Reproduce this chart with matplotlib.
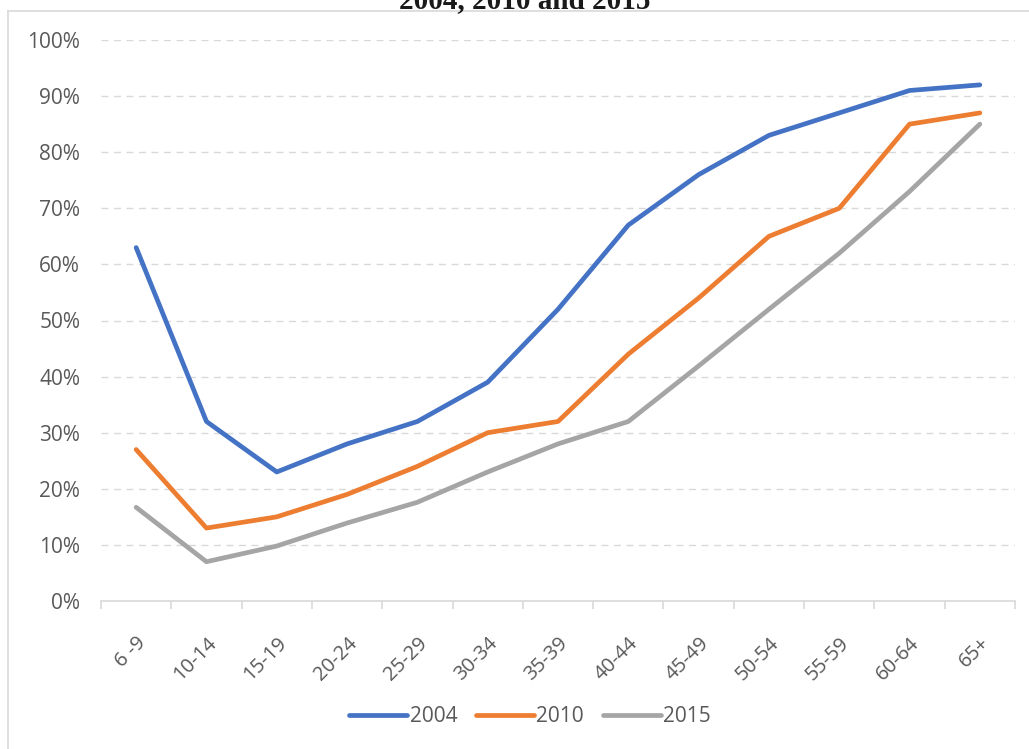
import numpy as np
import matplotlib.pyplot as plt
from matplotlib.lines import Line2D

# age groups and shares for each survey year
ages = ["6 -9", "10-14", "15-19", "20-24", "25-29", "30-34", "35-39",
        "40-44", "45-49", "50-54", "55-59", "60-64", "65+"]
y2004 = [63, 32, 23, 28, 32, 39, 52, 67, 76, 83, 87, 91, 92]
y2010 = [27, 13, 15, 19, 24, 30, 32, 44, 54, 65, 70, 85, 87]
y2015 = [16.7, 7, 9.8, 13.9, 17.6, 23, 28, 32, 41.9, 52, 62, 73, 85]
years = ["2004", "2010", "2015"]
colors = ["#4472C4", "#ED7D31", "#A5A5A5"]

plt.rcParams['font.family'] = ['Open Sans', 'DejaVu Sans']
txt = "#595959"
grid_c = "#D9D9D9"

W, H = 1029, 749
fig = plt.figure(figsize=(W / 100, H / 100), dpi=100)
ax = fig.add_axes([101 / W, 1 - 601 / H, 914 / W, 561 / H])

x = np.arange(len(ages))
for vals, lab, c in zip([y2004, y2010, y2015], years, colors):
    ax.plot(x, np.array(vals) / 100, color=c, lw=3.4, label=lab,
            solid_capstyle='round', solid_joinstyle='round', zorder=3)

ax.set_xlim(-0.5, len(ages) - 0.5)
ax.set_ylim(0, 1)
ax.set_yticks(np.arange(0, 1.01, 0.1))
ax.set_yticklabels([f"{int(round(v * 100))}%" for v in np.arange(0, 1.01, 0.1)])
ax.yaxis.grid(True, color=grid_c, ls=(0, (5, 4)), lw=1)
ax.set_axisbelow(True)

ax.set_xticks(x)
ax.set_xticklabels(ages, rotation=45, ha='right', rotation_mode='anchor')
ax.set_xticks(np.arange(-0.5, len(ages)), minor=True)
ax.tick_params(axis='x', which='major', length=0, pad=23, labelsize=14.5, labelcolor=txt)
ax.tick_params(axis='x', which='minor', length=6, color=grid_c, width=1.2)
ax.tick_params(axis='y', length=0, pad=15, labelsize=15, labelcolor=txt)

for s in ['top', 'right', 'left']:
    ax.spines[s].set_visible(False)
ax.spines['bottom'].set_color(grid_c)
ax.spines['bottom'].set_linewidth(1.2)

# chart frame and clipped title
fig.add_artist(Line2D([8 / W, 8 / W], [0, 1 - 11 / H], color=grid_c, lw=1.2))
fig.add_artist(Line2D([8 / W, 1], [1 - 11 / H, 1 - 11 / H], color=grid_c, lw=1.2))
fig.text(525 / W, 1 - 8 / H, "2004, 2010 and 2015", ha='center', va='baseline',
         fontsize=21, fontweight='bold', family='Liberation Serif', color='#1a1a1a')

fig.legend(loc='center', bbox_to_anchor=(530 / W, 1 - 717 / H), ncol=3,
           frameon=False, fontsize=15, labelcolor=txt, handlelength=2.8,
           handletextpad=0.1, columnspacing=0.9)

fig.savefig("out.png", dpi=100)
